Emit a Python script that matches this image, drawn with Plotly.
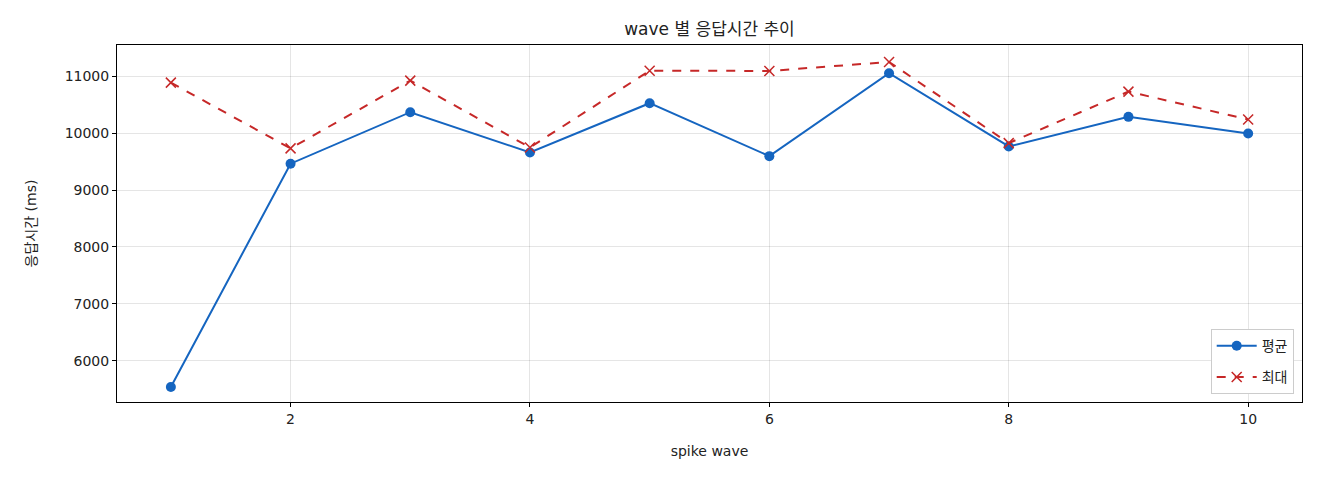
import plotly.graph_objects as go

# wave 별 응답시간 (ms)
waves = [1, 2, 3, 4, 5, 6, 7, 8, 9, 10]
avg_ms = [5540, 9463, 10368, 9661, 10526, 9596, 11053, 9766, 10286, 9995]
max_ms = [10888, 9732, 10923, 9749, 11098, 11093, 11251, 9825, 10730, 10240]

FONT = "DejaVu Sans, Noto Sans CJK KR, sans-serif"

fig = go.Figure()

fig.add_trace(go.Scatter(
    x=waves, y=avg_ms, name="평균", legendgroup="avg",
    mode="lines+markers",
    line=dict(color="#1565C0", width=2),
    marker=dict(symbol="circle", size=10, color="#1565C0"),
))

fig.add_trace(go.Scatter(
    x=waves, y=max_ms, name="최대", legendgroup="max",
    mode="lines+markers",
    line=dict(color="#C62828", width=2, dash="dash"),
    marker=dict(symbol="x-thin", size=10, line=dict(color="#C62828", width=1.5)),
))

axis_common = dict(
    showline=True, linecolor="black", linewidth=1, mirror=True,
    showgrid=True, gridcolor="rgba(0,0,0,0.1)", gridwidth=1,
    ticks="outside", ticklen=4, tickcolor="black",
    tickfont=dict(size=14, color="#222"),
    zeroline=False,
)

fig.update_layout(
    width=1320, height=480,
    paper_bgcolor="white", plot_bgcolor="white",
    margin=dict(l=109, r=26, t=37, b=86),
    font=dict(family=FONT, color="#222"),
    title=dict(text="wave 별 응답시간 추이", x=0.5, xref="paper",
               xanchor="center", y=1, yref="paper", yanchor="bottom", pad=dict(b=10),
               font=dict(size=17, color="#222")),
    xaxis=dict(axis_common, range=[0.55, 10.45], tickvals=[2, 4, 6, 8, 10],
               title=dict(text="spike wave", font=dict(size=14), standoff=20)),
    yaxis=dict(axis_common, range=[5275, 11549], tickvals=[6000, 7000, 8000, 9000, 10000, 11000],
               tickformat="d",
               title=dict(text="응답시간 (ms)", font=dict(size=14), standoff=24)),
    legend=dict(x=0.993, y=0.022, xanchor="right", yanchor="bottom",
                bgcolor="white", bordercolor="#ccc", borderwidth=1,
                tracegroupgap=10, itemwidth=40,
                font=dict(size=14)),
)

fig.write_html("out.html")
